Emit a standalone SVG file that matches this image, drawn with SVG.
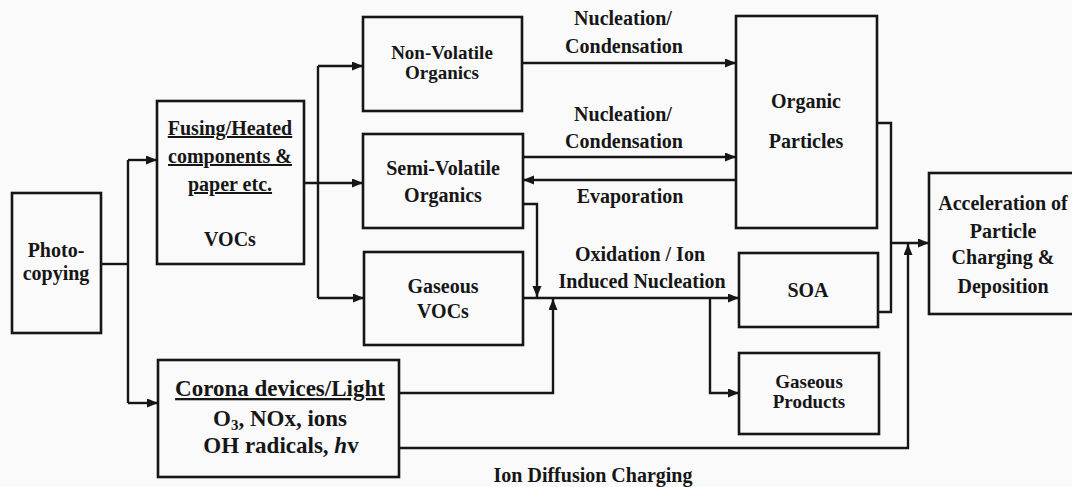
<svg xmlns="http://www.w3.org/2000/svg" width="1072" height="487" viewBox="0 0 1072 487">
<style>
.box{fill:none;stroke:#161616;stroke-width:2.6}
.ln{fill:none;stroke:#161616;stroke-width:2.4}
text{font-weight:bold;font-size:20px;fill:#161616;text-anchor:middle}
.u{text-decoration:underline}
.big{font-size:23px}
.sm{font-size:19px}
</style>
<defs>
<marker id="ah" markerUnits="userSpaceOnUse" markerWidth="12" markerHeight="10" refX="11" refY="4.5" orient="auto">
<path d="M0,0 L11,4.5 L0,9 z" fill="#161616"/>
</marker>
</defs>
<rect width="1072" height="487" fill="#fafafb"/>
<g font-family="Liberation Serif, Tinos, DejaVu Serif, serif">
<g id="photocopying">
<rect class="box" x="12" y="193" width="89" height="140"/>
<text x="56" y="257">Photo-</text>
<text x="56" y="280">copying</text>
</g>
<g id="fusing">
<rect class="box" x="157" y="101" width="147" height="163"/>
<text class="u" x="230" y="135">Fusing/Heated</text>
<text class="u" x="230" y="163">components &amp;</text>
<text class="u" x="230" y="191">paper etc.</text>
<text x="230" y="246">VOCs</text>
</g>
<g id="corona">
<rect class="box" x="158" y="360" width="241" height="117"/>
<text class="big u" x="280" y="396">Corona devices/Light</text>
<text class="big" x="280" y="426">O<tspan font-size="15" dy="4">3</tspan><tspan dy="-4">, NOx, ions</tspan></text>
<text class="big" x="281" y="453">OH radicals, <tspan font-style="italic">h</tspan>v</text>
</g>
<g id="nonvolatile">
<rect class="box" x="363" y="17" width="159" height="94"/>
<text class="sm" x="442" y="59">Non-Volatile</text>
<text class="sm" x="442" y="79">Organics</text>
</g>
<g id="semivolatile">
<rect class="box" x="363" y="134" width="160" height="94"/>
<text x="443" y="175">Semi-Volatile</text>
<text x="443" y="202">Organics</text>
</g>
<g id="gaseousvocs">
<rect class="box" x="364" y="252" width="159" height="93"/>
<text x="443" y="293">Gaseous</text>
<text x="443" y="318">VOCs</text>
</g>
<g id="organicparticles">
<rect class="box" x="736" y="16" width="141" height="212"/>
<text x="806" y="108">Organic</text>
<text x="806" y="148">Particles</text>
</g>
<g id="soa">
<rect class="box" x="739" y="253" width="139" height="74"/>
<text x="808" y="297">SOA</text>
</g>
<g id="gaseousproducts">
<rect class="box" x="739" y="353" width="140" height="81"/>
<text class="sm" x="809" y="388">Gaseous</text>
<text class="sm" x="809" y="408">Products</text>
</g>
<g id="acceleration">
<rect class="box" x="929" y="173" width="150" height="141"/>
<text x="1003" y="210">Acceleration of</text>
<text x="1003" y="238">Particle</text>
<text x="1003" y="264">Charging &amp;</text>
<text x="1003" y="293">Deposition</text>
</g>
<g id="connectors">
<path class="ln" d="M101,264 H128"/>
<path class="ln" d="M128,160 V403"/>
<path class="ln" marker-end="url(#ah)" d="M128,160 H157"/>
<path class="ln" marker-end="url(#ah)" d="M128,403 H158"/>
<path class="ln" marker-end="url(#ah)" d="M304,183 H363"/>
<path class="ln" d="M318,66 V298"/>
<path class="ln" marker-end="url(#ah)" d="M318,66 H363"/>
<path class="ln" marker-end="url(#ah)" d="M318,298 H364"/>
<path class="ln" marker-end="url(#ah)" d="M522,63 H736"/>
<path class="ln" marker-end="url(#ah)" d="M523,157 H736"/>
<path class="ln" marker-end="url(#ah)" d="M736,180 H523"/>
<path class="ln" marker-end="url(#ah)" d="M523,204 H537 V297"/>
<path class="ln" marker-end="url(#ah)" d="M523,298 H739"/>
<path class="ln" marker-end="url(#ah)" d="M399,393 H553 V299"/>
<path class="ln" marker-end="url(#ah)" d="M710,298 V393 H739"/>
<path class="ln" d="M877,123 H891 V312 H878"/>
<path class="ln" marker-end="url(#ah)" d="M891,243 H929"/>
<path class="ln" marker-end="url(#ah)" d="M399,448 H908 V244"/>
</g>
<g id="labels">
<text x="623" y="25">Nucleation/</text>
<text x="624" y="53">Condensation</text>
<text x="623" y="121">Nucleation/</text>
<text x="624" y="148">Condensation</text>
<text x="630" y="203">Evaporation</text>
<text x="640" y="261">Oxidation / Ion</text>
<text x="642" y="288">Induced Nucleation</text>
<text x="593" y="482">Ion Diffusion Charging</text>
</g>
</g>
</svg>
